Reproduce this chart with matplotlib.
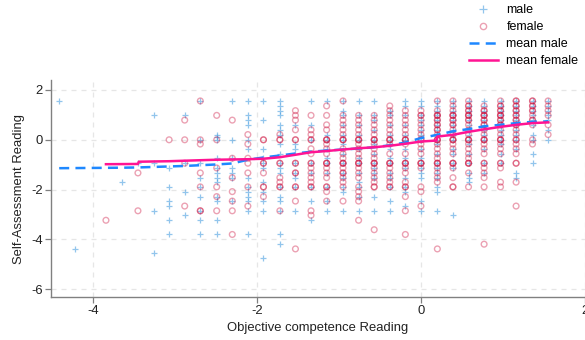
import matplotlib
matplotlib.use("Agg")
import matplotlib.pyplot as plt
from matplotlib.lines import Line2D
import numpy as np

plt.rcParams['font.family'] = ['Liberation Sans', 'DejaVu Sans']
plt.rcParams['axes.unicode_minus'] = False

# competence score columns (x) and the self-assessment values found in each
x_cols = [-4.41, -4.22, -3.84, -3.64, -3.45, -3.26, -3.07, -2.88, -2.69, -2.49,
          -2.30, -2.11, -1.92, -1.72, -1.53, -1.34, -1.15, -0.95, -0.76, -0.57,
          -0.38, -0.19, 0.0, 0.2, 0.39, 0.58, 0.77, 0.97, 1.16, 1.36, 1.55]

male_y = [
    [1.56],
    [-4.38],
    [],
    [-1.7],
    [-0.94],
    [0.98, -0.94, -2.85, -4.56],
    [-1.13, -1.89, -2.46, -2.66, -3.23, -3.8],
    [0.98, -0.94, -2.08, -3.03],
    [1.56, 0, -0.94, -1.52, -1.89, -2.28, -2.85, -3.23, -3.8],
    [0.21, 0.1, 0, -0.74, -1.13, -1.33, -1.52, -1.7, -2.28, -2.46, -3.23, -3.8],
    [1.56, 0, -0.74, -1.13, -1.33, -1.52, -2.46],
    [1.56, 0.98, 0.79, 0.6, 0, -0.36, -1.52, -1.89, -2.08, -2.28, -2.46, -2.85, -3.8],
    [1.56, 0.79, -0.36, -0.74, -0.94, -1.13, -1.7, -2.08, -2.46, -2.85, -4.75],
    [1.56, 1.36, 1.17, 0.98, 0.6, 0.4, 0.21, -0.17, -0.56, -0.94, -1.13, -1.33,
     -1.89, -2.28, -2.46, -2.85, -3.8, -4.19],
    [0.6, -0.17, -0.36, -0.94, -1.33, -1.52, -1.89, -2.85],
    [1.56, 0.6, 0, -0.94, -1.33, -1.89, -2.46, -3.23],
    [1.56, 0.21, 0, -0.36, -0.74, -0.94, -1.33, -1.89, -2.46, -2.85],
    [1.56, 1.17, 0.98, 0.6, 0.21, 0, -0.17, -0.56, -0.94, -1.33, -1.52, -1.89, -2.08, -2.85],
    [1.56, 0.98, 0.6, 0.21, 0, -0.36, -0.74, -0.94, -1.33, -1.7, -1.89, -2.28, -2.85],
    [1.56, 0.98, 0.79, 0.4, 0, -0.17, -0.56, -0.94, -1.13, -1.33, -1.52, -2.28, -2.85],
    [1.17, 0.98, 0.6, 0.21, 0, -0.36, -0.74, -0.94, -1.33, -1.52, -1.89, -2.46, -2.85],
    [1.56, 1.36, 0.98, 0.6, 0.21, 0, -0.36, -0.74, -0.94, -1.13, -1.52, -1.89, -2.08, -2.66],
    [1.56, 1.36, 0.98, 0.79, 0.6, 0.4, 0.21, 0, -0.36, -0.74, -0.94, -1.13, -1.33,
     -1.52, -2.46, -2.85],
    [1.56, 1.36, 1.17, 0.98, 0.79, 0.6, 0.4, 0.21, 0, -0.17, -0.56, -0.94, -1.13,
     -1.33, -1.52, -1.89, -2.08, -2.85],
    [1.56, 1.36, 1.17, 0.98, 0.79, 0.6, 0.4, 0.21, 0, -0.36, -0.56, -0.94, -1.13, -3.03],
    [1.56, 1.36, 1.17, 0.98, 0.79, 0.6, 0.4, 0.21, 0, -0.17, -0.56, -0.94, -1.33, -1.52, -1.7],
    [1.56, 1.36, 1.17, 0.98, 0.79, 0.6, 0.4, 0.21, 0, -0.36, -0.94, -1.33],
    [1.56, 1.36, 1.17, 0.98, 0.79, 0.6, 0.4, 0.21, 0, -0.17, -0.56, -0.94],
    [1.56, 1.36, 1.17, 0.98, 0.79, 0.6, 0.4, 0.21, 0, -0.36, -1.33, -1.52],
    [1.56, 1.36, 1.17, 0.98, 0.79, 0.6, 0.21, 0, -0.56, -0.94],
    [1.56, 1.36, 1.17, 0.98, 0.79, 0.4, 0],
]

female_y = [
    [],
    [],
    [-3.23],
    [],
    [-1.33, -2.85],
    [],
    [0],
    [0.79, 0, -0.94, -2.66],
    [1.56, 0, -0.17, -1.33, -1.89, -2.85, -2.85],
    [0.98, 0, -1.13, -1.89, -2.28, -2.85],
    [0.79, -0.74, -1.52, -2.08, -2.46, -2.85, -3.8],
    [0.21, -0.17, -0.74, -0.94, -1.33, -1.89, -2.66],
    [0, 0, -0.94, -0.94, -1.33, -1.89, -1.89, -2.28],
    [0.21, 0, 0, -0.94, -0.94, -1.52, -1.7, -1.89, -1.89, -2.85],
    [1.17, 0.98, 0.79, 0.4, 0, 0, -0.94, -0.94, -1.33, -1.33, -1.89, -1.89, -2.46, -4.38],
    [0.98, 0.4, 0.21, 0, 0, -0.36, -0.56, -0.94, -0.94, -1.13, -1.33, -1.52, -1.7,
     -1.89, -1.89, -2.85, -3.03],
    [1.36, 0.98, 0.6, 0.4, 0, 0, 0, -0.17, -0.36, -0.56, -0.94, -0.94, -0.94, -1.13,
     -1.33, -1.52, -1.89, -1.89, -2.08, -2.46],
    [1.56, 0.98, 0.79, 0.6, 0.4, 0.21, 0, 0, 0, -0.36, -0.56, -0.74, -0.94, -0.94,
     -0.94, -1.13, -1.33, -1.33, -1.52, -1.7, -1.89, -2.46],
    [0.98, 0.79, 0.6, 0.4, 0.21, 0, 0, 0, -0.17, -0.36, -0.56, -0.74, -0.94, -0.94,
     -0.94, -1.13, -1.33, -1.52, -1.89, -2.08, -2.28, -2.46, -3.23],
    [0.98, 0.79, 0.6, 0.4, 0.21, 0, 0, 0, -0.17, -0.36, -0.56, -0.74, -0.94, -0.94,
     -0.94, -1.13, -1.33, -1.52, -1.7, -1.89, -1.89, -3.61],
    [1.36, 1.17, 0.98, 0.79, 0.6, 0.4, 0.21, 0, 0, 0, -0.17, -0.56, -0.94, -0.94,
     -0.94, -1.13, -1.33, -1.52, -1.7, -1.89, -1.89],
    [1.17, 0.98, 0.79, 0.6, 0.4, 0.21, 0, 0, 0, -0.17, -0.56, -0.94, -0.94, -0.94,
     -1.13, -1.33, -1.7, -1.89, -1.89, -2.28, -2.85, -3.8],
    [1.17, 0.98, 0.98, 0.79, 0.6, 0.4, 0.21, 0, 0, -0.17, -0.36, -0.56, -0.94, -0.94,
     -0.94, -1.13, -1.89, -2.08, -2.66],
    [1.56, 1.17, 0.98, 0.98, 0.98, 0.79, 0.79, 0.6, 0.6, 0.4, 0.4, 0.21, 0, 0, 0,
     -0.17, -0.36, -0.56, -0.74, -0.94, -0.94, -0.94, -1.13, -1.33, -1.52, -1.7, -4.38],
    [1.56, 1.36, 1.17, 0.98, 0.98, 0.98, 0.79, 0.79, 0.6, 0.6, 0.4, 0.21, 0, 0, 0,
     -0.17, -0.36, -0.56, -0.94, -0.94, -0.94, -1.13, -1.52, -1.89, -1.89],
    [1.56, 1.36, 1.36, 1.17, 1.17, 0.98, 0.98, 0.98, 0.79, 0.79, 0.6, 0.4, 0.21, 0,
     0, 0, -0.17, -0.36, -0.56, -0.74, -0.94, -0.94, -0.94, -1.33, -1.89],
    [1.36, 1.17, 1.17, 0.98, 0.98, 0.98, 0.79, 0.79, 0.6, 0.6, 0.4, 0.21, 0, 0, 0,
     -0.17, -0.36, -0.56, -0.94, -0.94, -1.13, -1.33, -1.52, -1.89, -4.19],
    [1.56, 1.36, 1.36, 1.17, 1.17, 0.98, 0.98, 0.98, 0.79, 0.79, 0.6, 0.6, 0.4, 0.21,
     0, 0, 0, -0.17, -0.36, -0.56, -0.94, -0.94, -1.13, -1.7, -1.89],
    [1.56, 1.56, 1.36, 1.36, 1.17, 1.17, 0.98, 0.98, 0.79, 0.79, 0.6, 0.6, 0.4, 0.21,
     0, 0, -0.17, -0.36, -0.56, -0.94, -0.94, -1.7, -2.66],
    [1.56, 1.56, 1.36, 1.36, 1.17, 1.17, 0.98, 0.79, 0.79, 0.6, 0, -0.17],
    [1.56, 1.36, 1.17, 0.98, 0.6, 0.21],
]

# mean lines
mean_male_x = [-4.41, -3.64, -3.45, -3.26, -3.07, -2.88, -2.69, -2.49, -2.30, -2.11,
               -1.92, -1.72, -1.53, -1.34, -1.15, -0.95, -0.76, -0.57, -0.38, -0.19,
               0.0, 0.2, 0.39, 0.58, 0.77, 0.97, 1.16, 1.36, 1.55]
mean_male_y = [-1.14, -1.12, -1.11, -1.09, -1.07, -1.05, -1.02, -0.99, -0.95, -0.80,
               -0.71, -0.63, -0.55, -0.48, -0.43, -0.39, -0.35, -0.30, -0.22, -0.11,
               0.07, 0.20, 0.34, 0.43, 0.54, 0.60, 0.67, 0.72, 0.74]
mean_female_x = [-3.84, -3.45, -3.44, -3.26, -3.07, -2.88, -2.69, -2.49, -2.30, -2.11,
                 -1.92, -1.72, -1.53, -1.34, -1.15, -0.95, -0.76, -0.57, -0.38, -0.19,
                 0.0, 0.19, 0.2, 0.39, 0.58, 0.77, 0.97, 1.16, 1.36, 1.55]
mean_female_y = [-0.98, -0.97, -0.88, -0.87, -0.86, -0.84, -0.82, -0.80, -0.79, -0.78,
                 -0.76, -0.70, -0.60, -0.50, -0.45, -0.39, -0.34, -0.30, -0.24, -0.16,
                 -0.07, -0.03, 0.13, 0.20, 0.32, 0.42, 0.52, 0.60, 0.67, 0.70]

male_col = '#4a9fe0'
female_col = '#cc0a38'
mean_male_col = '#1e88ff'
mean_female_col = '#ff1493'

mx = np.concatenate([[x] * len(ys) for x, ys in zip(x_cols, male_y)])
my = np.concatenate(male_y)
fx = np.concatenate([[x] * len(ys) for x, ys in zip(x_cols, female_y)])
fy = np.concatenate(female_y)

fig = plt.figure(figsize=(5.85, 3.4), dpi=100)
ax = fig.add_axes([51 / 585, 43 / 340, 534 / 585, 217 / 340])

ax.scatter(mx, my, marker='+', s=22, linewidths=0.9, color=male_col, alpha=0.6, zorder=3)
ax.scatter(fx, fy, marker='o', s=17, linewidths=1.0, facecolors='none',
           edgecolors=female_col, alpha=0.38, zorder=3)
ax.plot(mean_male_x, mean_male_y, color=mean_male_col, lw=1.8, ls=(0, (4, 2.5)), zorder=4)
ax.plot(mean_female_x, mean_female_y, color=mean_female_col, lw=1.8, zorder=5)

ax.set_xlim(-4.51, 2.0)
ax.set_ylim(-6.31, 2.4)
ax.set_xticks([-4, -2, 0, 2])
ax.set_yticks([-6, -4, -2, 0, 2])
ax.grid(True, color='#e6e6e6', lw=0.9, ls=(0, (4, 4)))
ax.set_axisbelow(True)
for s in ['top', 'right']:
    ax.spines[s].set_visible(False)
for s in ['left', 'bottom']:
    ax.spines[s].set_color('#808080')
    ax.spines[s].set_linewidth(1.0)
ax.tick_params(direction='out', length=4, width=0.9, color='#808080',
               labelsize=9.4, labelcolor='#222222', pad=2)
ax.set_xlabel('Objective competence Reading', fontsize=9.4, color='#222222', labelpad=3)
ax.set_ylabel('Self-Assessment Reading', fontsize=9.4, color='#222222', labelpad=4)

handles = [
    Line2D([], [], marker='+', ls='none', color=male_col, alpha=0.6, markersize=5.5, mew=0.9),
    Line2D([], [], marker='o', ls='none', mfc='none', mec=female_col, alpha=0.38,
           markersize=4.5, mew=1.0),
    Line2D([], [], color=mean_male_col, lw=1.8, ls=(0, (4, 2.5))),
    Line2D([], [], color=mean_female_col, lw=1.8),
]
fig.legend(handles, ['male', 'female', 'mean male', 'mean female'],
           loc='upper left', bbox_to_anchor=(469 / 585, 1 - 4 / 340),
           frameon=False, fontsize=9, handlelength=2.3, handletextpad=0.7,
           labelspacing=0.4, borderpad=0, borderaxespad=0)

fig.savefig('out.png', dpi=100)
